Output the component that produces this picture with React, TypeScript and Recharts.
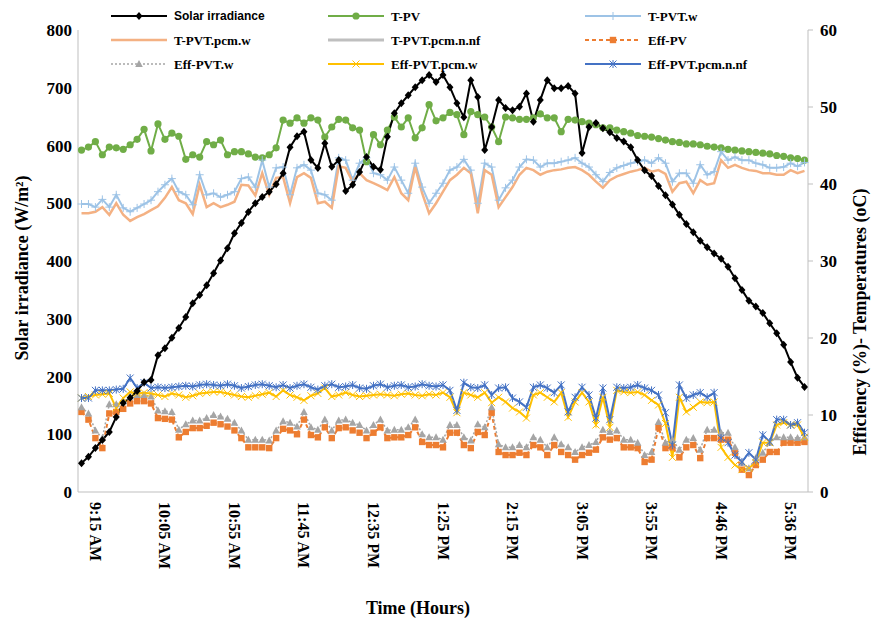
import React from 'react';
import { LineChart, Line, XAxis, YAxis, Legend } from 'recharts';

// 5-minute readings, 9:05 AM to 5:46 PM (one 6-minute step before 4:46 PM)
const fmt = (m: number) => {
  const h = Math.floor(m / 60);
  const mm = m % 60;
  const h12 = h > 12 ? h - 12 : h;
  return `${h12}:${String(mm).padStart(2, '0')} ${h >= 12 ? 'PM' : 'AM'}`;
};
const TIMES = Array.from({ length: 105 }, (_, i) => fmt(9 * 60 + 5 + 5 * i + (i >= 90 ? 1 : 0)));

const TICK_LABELS = ['9:15 AM', '10:05 AM', '10:55 AM', '11:45 AM', '12:35 PM', '1:25 PM', '2:15 PM', '3:05 PM', '3:55 PM', '4:46 PM', '5:36 PM'];

const SOLAR = [
  50, 61, 76, 90, 104, 130, 154, 163, 175, 190,
  194, 237, 249, 267, 284, 303, 327, 341, 358, 379,
  401, 422, 448, 466, 485, 500, 511, 520, 533, 552,
  597, 616, 624, 575, 561, 604, 563, 575, 521, 532,
  554, 580, 563, 558, 615, 656, 673, 687, 701, 713,
  722, 710, 722, 701, 673, 649, 713, 684, 592, 632,
  679, 665, 661, 667, 690, 641, 679, 713, 699, 699,
  703, 690, 587, 632, 639, 630, 623, 613, 607, 597,
  575, 557, 547, 530, 514, 498, 480, 464, 450, 435,
  424, 413, 404, 390, 370, 350, 331, 321, 310, 292,
  275, 255, 225, 198, 182,
];

const T_PV = [
  44.4, 44.8, 45.5, 43.8, 44.8, 44.7, 44.5, 45.1, 45.8, 47.1,
  44.3, 47.8, 45.8, 46.6, 46.2, 43.2, 43.8, 43.5, 45.5, 45.1,
  45.7, 43.8, 44.2, 44.2, 43.9, 43.5, 43.4, 43.8, 44.7, 48.3,
  47.9, 48.6, 47.9, 48.6, 48.3, 46.1, 47.4, 48.4, 48.3, 47.3,
  47.0, 42.9, 46.4, 45.1, 47.0, 48.7, 47.4, 48.6, 46.0, 47.3,
  50.3, 48.2, 48.6, 49.3, 49.0, 46.4, 49.4, 49.0, 48.7, 47.4,
  45.5, 48.7, 48.6, 48.4, 48.4, 48.6, 49.1, 48.6, 48.6, 46.8,
  48.4, 48.3, 48.1, 47.9, 47.7, 47.3, 47.3, 47.0, 46.8, 46.6,
  46.3, 46.2, 46.1, 45.9, 45.7, 45.5, 45.4, 45.2, 45.2, 45.1,
  44.9, 44.8, 44.7, 44.5, 44.4, 44.3, 44.2, 44.1, 44.0, 43.9,
  43.7, 43.6, 43.4, 43.3, 43.1,
];

const T_PVT_W = [
  37.4, 37.4, 37.0, 38.0, 37.0, 38.6, 36.9, 36.4, 36.9, 37.4,
  37.9, 39.0, 39.9, 40.7, 39.0, 38.6, 37.3, 41.2, 38.6, 38.8,
  38.3, 38.6, 39.0, 40.7, 40.9, 39.6, 43.1, 39.6, 42.1, 42.2,
  38.6, 42.1, 42.5, 41.8, 38.8, 38.6, 37.9, 43.4, 43.1, 40.5,
  42.7, 43.4, 41.4, 41.2, 40.5, 42.2, 40.5, 38.8, 42.7, 39.6,
  37.5, 38.8, 40.1, 41.8, 42.2, 43.2, 41.8, 37.5, 42.7, 42.2,
  37.9, 39.5, 40.5, 42.2, 43.2, 43.1, 42.2, 42.7, 42.7, 42.9,
  43.1, 43.4, 42.7, 42.2, 41.2, 40.3, 41.5, 42.1, 42.4, 42.7,
  42.9, 43.1, 42.7, 43.4, 42.7, 40.3, 41.4, 41.4, 40.1, 42.5,
  41.2, 41.6, 44.2, 43.1, 43.5, 43.1, 43.1, 42.7, 42.5, 42.1,
  42.1, 42.2, 42.7, 42.3, 42.8,
];

const T_PVT_PCM_W = [
  36.2, 36.2, 36.4, 37.0, 36.0, 37.5, 36.0, 35.2, 35.7, 36.1,
  36.6, 37.1, 38.2, 39.6, 37.9, 37.5, 36.1, 39.9, 37.0, 37.5,
  37.0, 37.3, 37.7, 39.9, 39.8, 38.5, 41.4, 38.6, 40.8, 40.9,
  37.5, 40.9, 41.4, 40.8, 37.5, 37.7, 36.9, 42.3, 42.1, 40.3,
  41.4, 40.5, 40.1, 39.7, 39.2, 40.9, 38.8, 37.9, 42.2, 38.8,
  36.2, 37.5, 39.0, 40.5, 41.2, 42.1, 41.4, 36.2, 41.8, 41.2,
  37.0, 38.3, 39.6, 41.2, 42.1, 41.8, 41.2, 41.6, 41.8, 41.9,
  42.1, 42.2, 41.8, 41.2, 40.3, 39.5, 40.5, 41.0, 41.3, 41.6,
  41.8, 42.1, 41.6, 41.8, 41.3, 39.0, 40.1, 40.3, 38.8, 40.5,
  39.9, 40.1, 43.1, 42.1, 42.5, 42.1, 41.8, 41.7, 41.4, 41.4,
  41.2, 41.2, 41.8, 41.4, 41.7,
];

const EFF_PV = [
  10.4, 9.4, 7.0, 5.7, 10.2, 10.4, 10.8, 11.5, 11.8, 11.8,
  11.5, 9.6, 9.5, 9.4, 7.1, 7.8, 8.3, 8.3, 8.6, 9.0,
  8.8, 8.5, 8.0, 7.0, 5.8, 5.8, 5.8, 5.7, 7.0, 8.2,
  8.0, 7.5, 9.4, 7.4, 7.1, 8.4, 7.0, 8.3, 8.4, 8.0,
  7.7, 7.0, 7.7, 8.4, 7.0, 7.1, 7.1, 7.4, 8.4, 6.5,
  6.1, 6.1, 5.8, 7.7, 7.7, 6.1, 5.7, 7.8, 7.4, 10.3,
  5.2, 4.8, 4.8, 5.1, 4.8, 6.1, 5.8, 4.8, 6.1, 5.2,
  4.8, 4.2, 4.8, 5.1, 5.5, 7.1, 6.8, 7.0, 5.8, 5.8,
  5.7, 3.9, 4.2, 8.4, 5.7, 5.8, 4.5, 5.8, 6.1, 4.4,
  7.0, 7.0, 6.8, 6.8, 5.1, 2.9, 2.2, 3.5, 4.2, 5.2,
  5.2, 6.4, 6.4, 6.4, 6.5,
];

const EFF_PVT_W = [
  11.0, 10.2, 8.0, 7.0, 11.4, 11.4, 11.8, 12.4, 12.6, 12.6,
  12.4, 10.6, 10.5, 10.4, 8.1, 8.8, 9.3, 9.3, 9.6, 10.0,
  9.8, 9.5, 9.0, 8.0, 6.8, 6.8, 6.8, 6.7, 8.0, 9.2,
  9.0, 8.5, 10.4, 8.4, 8.1, 9.4, 8.0, 9.3, 9.4, 9.0,
  8.7, 8.0, 8.7, 9.4, 8.0, 8.1, 8.1, 8.4, 9.4, 7.5,
  7.1, 7.1, 6.8, 8.7, 8.7, 7.1, 6.7, 8.8, 8.4, 11.0,
  6.2, 5.8, 5.8, 6.1, 5.8, 7.1, 6.8, 5.8, 7.1, 6.2,
  5.8, 5.2, 5.8, 6.1, 6.5, 8.1, 7.8, 8.0, 6.8, 6.8,
  6.4, 4.8, 5.2, 9.1, 6.4, 6.8, 5.5, 6.8, 7.0, 5.5,
  8.1, 8.1, 7.7, 7.7, 5.8, 3.8, 3.1, 4.4, 5.1, 6.4,
  7.1, 7.1, 7.1, 7.0, 7.1,
];

const EFF_PVT_PCM_W = [
  12.2, 12.4, 12.6, 12.7, 12.8, 10.9, 12.2, 13.0, 12.8, 12.9,
  12.8, 12.6, 12.4, 12.8, 12.6, 12.3, 12.5, 12.8, 12.9, 13.0,
  13.0, 12.8, 12.6, 12.4, 12.3, 12.5, 12.7, 12.9, 12.4, 13.2,
  12.6, 12.3, 11.9, 12.5, 12.8, 13.5, 12.4, 12.6, 12.9, 12.6,
  12.4, 12.5, 12.6, 12.7, 12.6, 12.5, 12.7, 12.8, 12.6, 12.5,
  12.7, 12.6, 12.9, 12.3, 10.3, 12.9, 12.6, 12.3, 12.9, 11.6,
  12.3, 11.7, 10.9, 10.4, 9.6, 12.6, 12.9, 12.3, 11.7, 12.9,
  9.7, 11.7, 12.9, 11.7, 8.7, 12.3, 8.4, 13.2, 13.0, 12.9,
  13.0, 12.6, 11.9, 11.3, 8.9, 4.5, 12.3, 10.4, 11.0, 11.7,
  11.6, 11.7, 5.8, 4.5, 3.5, 2.9, 3.1, 3.8, 6.4, 6.4,
  8.7, 9.0, 8.7, 8.7, 7.1,
];

const EFF_PVT_PCM_NNF = [
  12.2, 12.2, 13.2, 13.2, 13.2, 13.3, 13.4, 14.8, 13.5, 14.2,
  13.5, 13.6, 13.5, 13.6, 13.7, 13.8, 13.7, 13.9, 14.0, 13.9,
  13.8, 14.0, 13.8, 13.5, 13.7, 13.9, 14.0, 13.8, 13.6, 13.9,
  13.5, 13.8, 14.0, 13.6, 13.3, 13.8, 14.0, 13.6, 13.7, 13.9,
  13.5, 13.4, 13.8, 14.0, 13.6, 13.8, 13.9, 13.6, 13.7, 14.0,
  13.8, 13.7, 13.9, 13.2, 10.6, 14.2, 13.6, 13.5, 13.9, 12.6,
  13.5, 13.6, 12.2, 11.7, 11.0, 13.6, 13.9, 13.5, 12.9, 13.9,
  10.4, 12.3, 13.6, 12.6, 9.6, 13.5, 9.4, 13.6, 13.5, 13.6,
  13.9, 13.5, 13.2, 12.6, 10.3, 6.1, 13.9, 12.2, 12.6, 12.9,
  12.3, 12.9, 7.0, 6.4, 4.8, 3.9, 5.1, 4.2, 7.4, 6.5,
  9.4, 9.4, 8.7, 9.0, 7.7,
];

const data = TIMES.map((t, i) => ({
  t,
  solar: SOLAR[i],
  tpv: T_PV[i],
  tpvtw: T_PVT_W[i],
  tpcmw: T_PVT_PCM_W[i],
  effpv: EFF_PV[i],
  effw: EFF_PVT_W[i],
  effpcmw: EFF_PVT_PCM_W[i],
  effnnf: EFF_PVT_PCM_NNF[i],
}));

type Shape = 'diamond' | 'circle' | 'plus' | 'square' | 'triangle' | 'x' | 'star' | 'none';

function Marker({ shape, x, y, color }: { shape: Shape; x: number; y: number; color: string }) {
  switch (shape) {
    case 'diamond':
      return <path d={`M${x},${y - 4}L${x + 3.5},${y}L${x},${y + 4}L${x - 3.5},${y}Z`} fill={color} />;
    case 'circle':
      return <circle cx={x} cy={y} r={3.6} fill={color} />;
    case 'plus':
      return <path d={`M${x - 4},${y}H${x + 4}M${x},${y - 4}V${y + 4}`} stroke={color} strokeWidth={1} />;
    case 'square':
      return <rect x={x - 3.2} y={y - 3.2} width={6.4} height={6.4} fill={color} />;
    case 'triangle':
      return <path d={`M${x},${y - 4}L${x + 3.8},${y + 3}L${x - 3.8},${y + 3}Z`} fill={color} />;
    case 'x':
      return <path d={`M${x - 3.5},${y - 3.5}L${x + 3.5},${y + 3.5}M${x - 3.5},${y + 3.5}L${x + 3.5},${y - 3.5}`} stroke={color} strokeWidth={1} />;
    case 'star':
      return <path d={`M${x - 3.5},${y - 3.5}L${x + 3.5},${y + 3.5}M${x - 3.5},${y + 3.5}L${x + 3.5},${y - 3.5}M${x},${y - 4}V${y + 4}`} stroke={color} strokeWidth={1} />;
    default:
      return null;
  }
}

const dot = (shape: Shape, color: string) => (p: any) => (
  <g key={`${shape}-${p.index}`}>
    <Marker shape={shape} x={p.cx} y={p.cy} color={color} />
  </g>
);

const LEGEND = [
  { name: 'Solar irradiance', color: '#000000', shape: 'diamond' as Shape, dash: undefined, w: 2, sans: true },
  { name: 'T-PV', color: '#70ad47', shape: 'circle' as Shape, dash: undefined, w: 2 },
  { name: 'T-PVT.w', color: '#9dc3e6', shape: 'plus' as Shape, dash: undefined, w: 2 },
  { name: 'T-PVT.pcm.w', color: '#f4b183', shape: 'none' as Shape, dash: undefined, w: 2.5 },
  { name: 'T-PVT.pcm.n.nf', color: '#bfbfbf', shape: 'none' as Shape, dash: undefined, w: 3 },
  { name: 'Eff-PV', color: '#ed7d31', shape: 'square' as Shape, dash: '4 3', w: 2 },
  { name: 'Eff-PVT.w', color: '#a5a5a5', shape: 'triangle' as Shape, dash: '2 2', w: 1.5 },
  { name: 'Eff-PVT.pcm.w', color: '#ffc000', shape: 'x' as Shape, dash: undefined, w: 2 },
  { name: 'Eff-PVT.pcm.n.nf', color: '#4472c4', shape: 'star' as Shape, dash: undefined, w: 2 },
];
const LEG_COL_X = [111, 328, 585];
const LEG_ROW_Y = [16, 40, 64];

function LegendGrid() {
  return (
    <svg width={877} height={80} style={{ display: 'block' }}>
      {LEGEND.map((it, i) => {
        const x = LEG_COL_X[i % 3];
        const y = LEG_ROW_Y[Math.floor(i / 3)];
        return (
          <g key={it.name}>
            <line x1={x} x2={x + 56} y1={y} y2={y} stroke={it.color} strokeWidth={it.w} strokeDasharray={it.dash} />
            <Marker shape={it.shape} x={x + 28} y={y} color={it.color} />
            <text
              x={x + 63}
              y={y}
              dominantBaseline="central"
              fontFamily={it.sans ? '"Liberation Sans", Arial, sans-serif' : '"Liberation Serif", serif'}
              fontWeight="bold"
              fontSize={it.sans ? 12 : 13}
              fill="#000"
            >
              {it.name}
            </text>
          </g>
        );
      })}
    </svg>
  );
}

const FONT = '"Liberation Serif", "Times New Roman", serif';
const AXIS = '#bfbfbf';

function TimeTick({ x, y, payload }: any) {
  return (
    <text
      transform={`translate(${x},${y + 8}) rotate(90)`}
      textAnchor="start"
      dominantBaseline="central"
      fontFamily={FONT}
      fontWeight="bold"
      fontSize={16}
      fill="#000"
    >
      {payload.value}
    </text>
  );
}

const tickStyle = { fontFamily: FONT, fontWeight: 'bold', fontSize: 17, fill: '#000' };

export default function App() {
  return (
    <div style={{ position: 'absolute', left: 0, top: 0, width: 877, height: 625, background: '#fff' }}>
      <LineChart width={877} height={625} data={data} margin={{ top: 30, right: 0, bottom: 0, left: 0 }}>
        <XAxis
          dataKey="t"
          ticks={TICK_LABELS}
          interval={0}
          height={133}
          padding={{ left: 3.5, right: 3.5 }}
          tick={<TimeTick />}
          tickLine={false}
          tickSize={0}
          stroke={AXIS}
        />
        <YAxis
          yAxisId="left"
          width={78}
          domain={[0, 800]}
          ticks={[0, 100, 200, 300, 400, 500, 600, 700, 800]}
          tick={tickStyle}
          tickLine={false}
          tickSize={0}
          tickMargin={6}
          stroke={AXIS}
        />
        <YAxis
          yAxisId="right"
          orientation="right"
          width={69}
          domain={[0, 60]}
          ticks={[0, 10, 20, 30, 40, 50, 60]}
          tick={tickStyle}
          tickSize={5}
          tickMargin={7}
          stroke={AXIS}
        />
        <Legend
          verticalAlign="middle"
          align="center"
          wrapperStyle={{ top: 0, left: 0, width: 877 }}
          content={() => <LegendGrid />}
        />
        <Line yAxisId="right" dataKey="tpv" stroke="#70ad47" strokeWidth={2} dot={dot('circle', '#70ad47')} isAnimationActive={false} />
        <Line yAxisId="right" dataKey="tpvtw" stroke="#9dc3e6" strokeWidth={2} dot={dot('plus', '#9dc3e6')} isAnimationActive={false} />
        <Line yAxisId="right" dataKey="tpcmw" stroke="#f4b183" strokeWidth={2.5} dot={false} isAnimationActive={false} />
        <Line yAxisId="right" dataKey="tpcmnnf" stroke="#bfbfbf" strokeWidth={3} dot={false} isAnimationActive={false} />
        <Line yAxisId="right" dataKey="effpv" stroke="#ed7d31" strokeWidth={2} strokeDasharray="4 3" dot={dot('square', '#ed7d31')} isAnimationActive={false} />
        <Line yAxisId="right" dataKey="effw" stroke="#a5a5a5" strokeWidth={1.5} strokeDasharray="2 2" dot={dot('triangle', '#a5a5a5')} isAnimationActive={false} />
        <Line yAxisId="right" dataKey="effpcmw" stroke="#ffc000" strokeWidth={2} dot={dot('x', '#ffc000')} isAnimationActive={false} />
        <Line yAxisId="right" dataKey="effnnf" stroke="#4472c4" strokeWidth={2} dot={dot('star', '#4472c4')} isAnimationActive={false} />
        <Line yAxisId="left" dataKey="solar" stroke="#000000" strokeWidth={2} dot={dot('diamond', '#000000')} isAnimationActive={false} />
      </LineChart>
      <div
        style={{
          position: 'absolute', left: 22, top: 268, transform: 'translate(-50%, -50%) rotate(-90deg)',
          whiteSpace: 'nowrap', fontFamily: FONT, fontWeight: 'bold', fontSize: 18,
        }}
      >
        Solar irradiance (W/m²)
      </div>
      <div
        style={{
          position: 'absolute', left: 860, top: 322, transform: 'translate(-50%, -50%) rotate(-90deg)',
          whiteSpace: 'nowrap', fontFamily: FONT, fontWeight: 'bold', fontSize: 18,
        }}
      >
        Efficiency (%)- Temperatures (oC)
      </div>
      <div
        style={{
          position: 'absolute', left: 418, top: 608, transform: 'translate(-50%, -50%)',
          whiteSpace: 'nowrap', fontFamily: FONT, fontWeight: 'bold', fontSize: 18,
        }}
      >
        Time (Hours)
      </div>
    </div>
  );
}
